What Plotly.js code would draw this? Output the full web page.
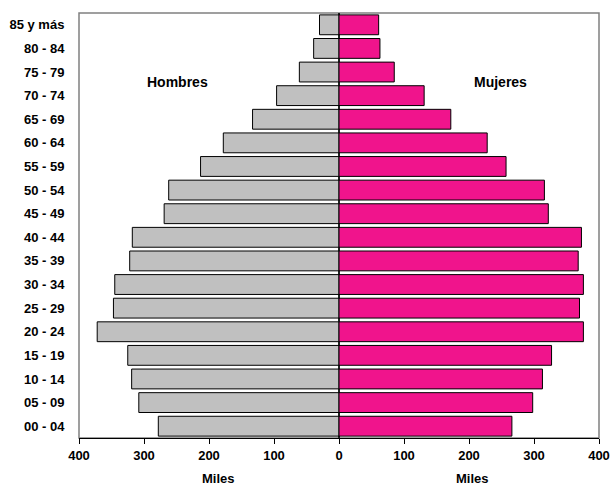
<!DOCTYPE html>
<html>
<head>
<meta charset="utf-8">
<script src="https://cdn.plot.ly/plotly-3.0.1.min.js"></script>
<style>html,body{margin:0;padding:0;background:#fff}#chart{width:615px;height:487px}</style>
</head>
<body>
<div id="chart"></div>
<script>
const ageGroups = ["00 - 04","05 - 09","10 - 14","15 - 19","20 - 24","25 - 29","30 - 34","35 - 39","40 - 44","45 - 49","50 - 54","55 - 59","60 - 64","65 - 69","70 - 74","75 - 79","80 - 84","85 y más"];
const hombres = [278,308,319,325,372,347,345,322,318,269,262,213,178,133,96,61,39,30];
const mujeres = [266,298,313,327,376,370,376,368,373,322,316,257,228,172,131,85,63,61];
const tickValues = [-400,-300,-200,-100,0,100,200,300,400];
const tickLabels = ["400","300","200","100","0","100","200","300","400"];

const fam = "Liberation Sans, Arial, sans-serif";

const traces = [
  {
    type: "bar", orientation: "h", name: "Hombres",
    y: ageGroups, x: hombres.map(v => -v),
    marker: {color: "#C0C0C0", line: {color: "#000", width: 1}},
    hoverinfo: "skip"
  },
  {
    type: "bar", orientation: "h", name: "Mujeres",
    y: ageGroups, x: mujeres,
    marker: {color: "#F0148C", line: {color: "#000", width: 1}},
    hoverinfo: "skip"
  }
];

const layout = {
  width: 615, height: 487,
  margin: {l: 79, r: 16, t: 13, b: 49},
  paper_bgcolor: "#fff", plot_bgcolor: "#fff",
  showlegend: false,
  barmode: "overlay",
  bargap: 0.16,
  font: {family: fam, size: 13, color: "#000"},
  xaxis: {
    range: [-400, 400],
    tickvals: tickValues, ticktext: tickLabels,
    tickfont: {family: fam, size: 13, color: "#000", weight: "bold"},
    ticks: "outside", ticklen: 5, tickcolor: "#000", tickwidth: 1,
    showgrid: false,
    showline: true, linecolor: "#000", linewidth: 1,
    zeroline: true, zerolinecolor: "#222", zerolinewidth: 1.5,
    fixedrange: true
  },
  yaxis: {
    type: "category",
    categoryorder: "array", categoryarray: ageGroups,
    tickfont: {family: fam, size: 13, color: "#000", weight: "bold"},
    ticks: "outside", ticklen: 11, tickcolor: "rgba(0,0,0,0)",
    showgrid: false, showline: false, zeroline: false,
    fixedrange: true
  },
  shapes: [
    {type: "rect", xref: "paper", yref: "paper", x0: 0, x1: 1, y0: 0, y1: 1,
     line: {color: "#808080", width: 1.5}, layer: "below"}
  ],
  annotations: [
    {x: -248, y: "70 - 74", xref: "x", yref: "y", yshift: 14, text: "<b>Hombres</b>", showarrow: false, font: {family: fam, size: 14, color: "#000"}},
    {x: 248, y: "70 - 74", xref: "x", yref: "y", yshift: 14, text: "<b>Mujeres</b>", showarrow: false, font: {family: fam, size: 14, color: "#000"}},
    {x: -186, y: -0.096, xref: "x", yref: "paper", yanchor: "middle", text: "<b>Miles</b>", showarrow: false, font: {family: fam, size: 13, color: "#000"}},
    {x: 206, y: -0.096, xref: "x", yref: "paper", yanchor: "middle", text: "<b>Miles</b>", showarrow: false, font: {family: fam, size: 13, color: "#000"}}
  ]
};

Plotly.newPlot("chart", traces, layout, {displayModeBar: false, staticPlot: true});
</script>
</body>
</html>
